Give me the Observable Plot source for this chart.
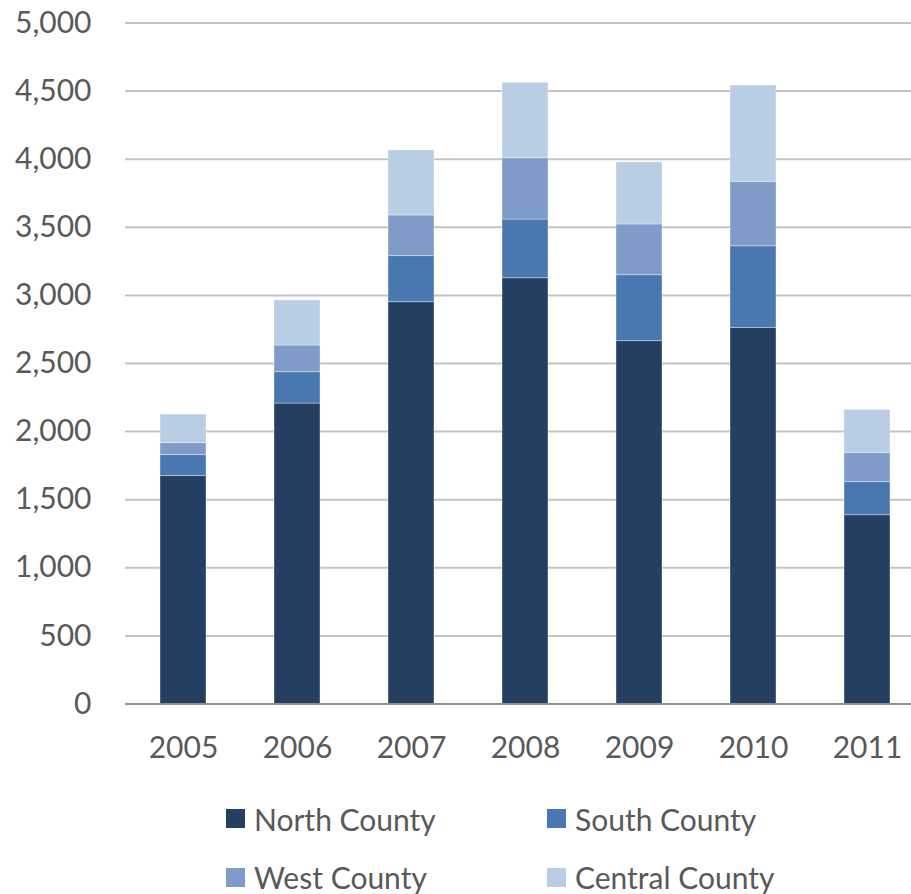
<!DOCTYPE html>
<html>
<head>
<meta charset="utf-8">
<script src="https://cdn.jsdelivr.net/npm/d3@7"></script>
<script src="https://cdn.jsdelivr.net/npm/@observablehq/plot@0.6"></script>
<style>
  html, body { margin: 0; padding: 0; background: #fff; }
  #wrap { position: relative; width: 911px; height: 894px; font-family: Lato, "Open Sans", sans-serif; color: #595959; }
  #legend { position: absolute; left: 0; top: 780px; width: 911px; height: 114px; }
  .item { position: absolute; display: flex; align-items: center; font-size: 30px; white-space: nowrap; }
  .sw { width: 19px; height: 19px; margin-right: 9px; flex: none; }
</style>
</head>
<body>
<div id="wrap">
  <div id="chart"></div>
  <div id="legend"></div>
</div>
<script>
const years = ["2005", "2006", "2007", "2008", "2009", "2010", "2011"];
const north = [1673, 2206, 2950, 3126, 2664, 2762, 1386];
const south = [154, 230, 338, 431, 484, 599, 243];
const west = [88, 196, 299, 450, 373, 473, 215];
const central = [210, 331, 477, 554, 455, 707, 316];
const seriesNames = ["North County", "South County", "West County", "Central County"];
const seriesColors = ["#253f61", "#4977af", "#7f9cc8", "#b9cde4"];
const yTicks = [0, 500, 1000, 1500, 2000, 2500, 3000, 3500, 4000, 4500, 5000];

const seriesValues = [north, south, west, central];
const rows = [];
seriesNames.forEach((s, si) => {
  years.forEach((y, yi) => rows.push({year: y, series: s, value: seriesValues[si][yi]}));
});

const chart = Plot.plot({
  width: 911,
  height: 780,
  marginTop: 22.5,
  marginBottom: 76.5,
  marginLeft: 125,
  marginRight: 0,
  style: {fontFamily: "Lato, 'Open Sans', sans-serif", fontSize: "30px", color: "#595959", background: "#fff", overflow: "visible"},
  x: {domain: years, range: [124.6, 924.6], paddingInner: 0.6, paddingOuter: 0.3, label: null},
  y: {domain: [0, 5000], label: null},
  color: {domain: seriesNames, range: seriesColors},
  marks: [
    Plot.ruleY(yTicks.filter(d => d > 0), {stroke: "#c3c3c3", strokeWidth: 2}),
    Plot.barY(rows, {x: "year", y: "value", fill: "series", stroke: "#ffffff", strokeOpacity: 0.45, strokeWidth: 0.8}),
    Plot.ruleY([0], {stroke: "#8f8f8f", strokeWidth: 2}),
    Plot.axisY({ticks: yTicks, tickFormat: d3.format(","), tickSize: 0, tickPadding: 34, label: null}),
    Plot.axisX({tickSize: 0, tickPadding: 33, label: null})
  ]
});
document.getElementById("chart").appendChild(chart);

const legendPos = [[226, 818.5], [547, 818.5], [226, 877], [547, 877]];
const legend = document.getElementById("legend");
seriesNames.forEach((s, i) => {
  const it = document.createElement("div");
  it.className = "item";
  it.style.left = legendPos[i][0] + "px";
  it.style.top = (legendPos[i][1] - 780 - 20) + "px";
  it.style.height = "40px";
  const sw = document.createElement("span");
  sw.className = "sw";
  sw.style.background = seriesColors[i];
  const tx = document.createElement("span");
  tx.textContent = s;
  it.appendChild(sw);
  it.appendChild(tx);
  legend.appendChild(it);
});
</script>
</body>
</html>
